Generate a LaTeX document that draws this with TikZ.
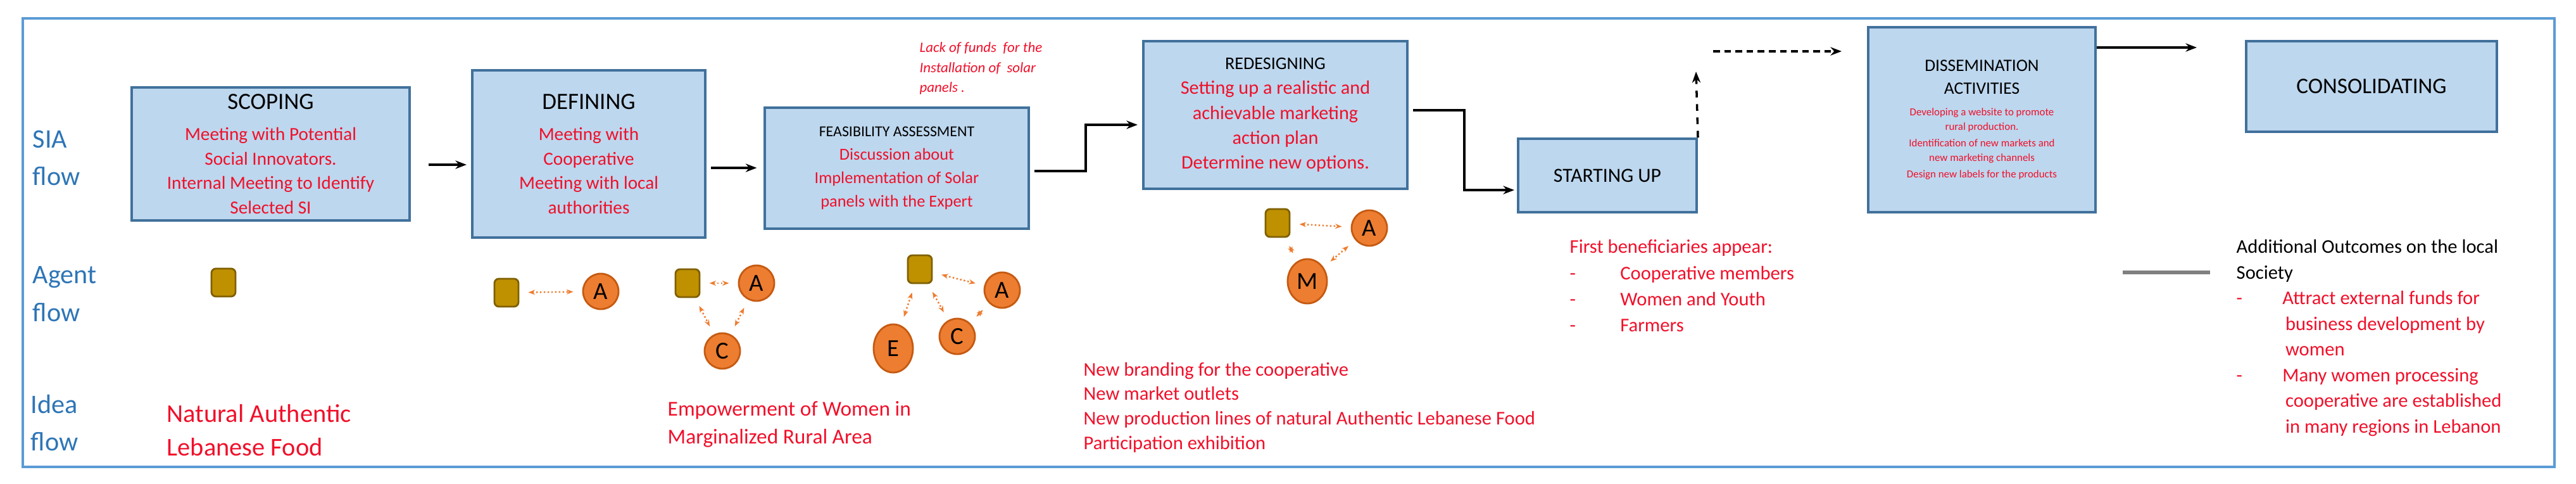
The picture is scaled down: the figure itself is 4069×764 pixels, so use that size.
\documentclass[tikz,border=0pt]{standalone}
\usepackage{fontspec}
\setmainfont{Carlito}
\usetikzlibrary{arrows.meta,calc,shapes.geometric}
\definecolor{bfill}{HTML}{BDD7EE}
\definecolor{bdraw}{HTML}{41719C}
\definecolor{frame}{HTML}{5B9BD5}
\definecolor{rtext}{HTML}{F0102A}
\definecolor{ltext}{HTML}{2E75B6}
\definecolor{sqf}{HTML}{BF9000}
\definecolor{sqd}{HTML}{7F6000}
\definecolor{cf}{HTML}{ED7D31}
\definecolor{cd}{HTML}{C55A11}
\newcommand{\fs}[2]{\fontsize{#1}{#2}\selectfont}
\begin{document}
\begin{tikzpicture}[x=0.01cm,y=-0.01cm,
  wh/.style 2 args={minimum width={#1*0.2845pt},minimum height={#2*0.2845pt}},
  box/.style={draw=bdraw,fill=bfill,line width=1.1pt,inner sep=0pt,align=center,text=rtext},
  lab/.style={text=ltext,align=left,anchor=north west,font=\fs{12}{17},inner sep=0pt},
  red/.style={text=rtext,align=left,anchor=west,inner sep=0pt},
  sq/.style={draw=sqd,fill=sqf,rounded corners=2pt,wh={38}{44},inner sep=0pt,line width=0.8pt},
  ag/.style={circle,draw=cd,fill=cf,wh={56}{56},inner sep=0pt,font=\fs{11}{12},line width=0.8pt},
  oa/.style={<->,>={Stealth[length=3pt]},draw=cf,line width=0.7pt,densely dotted,shorten <=4pt,shorten >=4pt},
  flow/.style={->,>={Stealth[length=5pt]},line width=1pt}]
\useasboundingbox (0,0) rectangle (4069,764);
\draw[frame,line width=1pt] (36,29) rectangle (4035,737);
% labels
\node[lab] (l1) at (51,205) {SIA\\flow};
\node[lab] (l2) at (51,420) {Agent\\flow};
\node[lab] (l3) at (48,622) {Idea\\flow};
% boxes
\node[box,wh={439}{210},font=\fs{8.3}{11}] (scop) at (427.5,243) {{\fs{10.5}{12}\color{black}SCOPING}\\[3pt]Meeting with Potential\\Social Innovators.\\Internal Meeting to Identify\\Selected SI};
\node[box,wh={368}{264},font=\fs{8.3}{11}] (def) at (930,243) {{\fs{10.5}{12}\color{black}DEFINING}\\[3pt]Meeting with\\Cooperative\\Meeting with local\\authorities};
\node[box,wh={417}{191},font=\fs{7.5}{10.5}] (feas) at (1416.5,265.5) {{\fs{6.8}{10.5}\color{black}FEASIBILITY ASSESSMENT}\\Discussion about\\Implementation of Solar\\panels with the Expert};
\node[box,wh={417}{233},font=\fs{8.6}{11.2}] (red) at (2014.5,181.5) {{\fs{8}{11}\color{black}REDESIGNING}\\Setting up a realistic and\\achievable marketing\\action plan\\Determine new options.};
\node[box,wh={282}{116},font=\fs{9}{11},text=black] (start) at (2539,277) {STARTING UP};
\node[box,wh={359}{292},font=\fs{4.8}{6.5}] (dis) at (3130.5,189) {{\fs{7.8}{10.5}\color{black}DISSEMINATION}\\[4pt]{\fs{7.8}{10.5}\color{black}ACTIVITIES}\\[3pt]Developing a website to promote\\rural production.\\[1pt]Identification of new markets and\\new marketing channels\\[1pt]Design new labels for the products};
\node[box,wh={396}{143},font=\fs{10}{12},text=black] (con) at (3746,136.5) {CONSOLIDATING};
% flow arrows
\draw[flow,shorten <=8pt,shorten >=2pt] (scop.east|-0,260) -- (def.west|-0,260);
\draw[flow,shorten <=2pt,shorten >=3pt] (def.east|-0,265) -- (feas.west|-0,265);
\coordinate (f1) at (1715,197);
\draw[flow] ($(feas.east|-0,270)+(7,0)$) -| (f1) -- ($(red.west|-0,197)+(-7,0)$);
\coordinate (r1) at (2313,300);
\draw[flow] ($(red.east|-0,174)+(7,0)$) -| (r1) -- ($(start.west|-0,300)+(-4,0)$);
\coordinate (s1) at (2679,113);
\draw[flow,dashed] (start.north east) -- (s1);
\coordinate (d0) at (2706,81);
\draw[flow,densely dashed] (d0) -- ($(dis.west|-0,81)+(-40,0)$);
\coordinate (c0) at (3470,75);
\draw[flow] (dis.east|-0,75) -- (c0);
% lack of funds
\node[red,anchor=north west,font=\itshape\fs{6.5}{9}] (lf) at (1452,66) {Lack of funds\ \ for the\\Installation of\ \ solar\\panels .};
% agents
\node[sq] (s_a) at (353,446) {};
\node[sq] (s_b) at (800,462) {};
\node[ag] (A_b) at (949,460) {A};
\draw[oa] (s_b) -- (A_b);
\node[sq] (s_c) at (1086,447) {};
\node[ag] (A_c) at (1195,447) {A};
\node[ag] (C_c) at (1141,554) {C};
\draw[oa] (s_c) -- (A_c);
\draw[oa] (s_c) -- (C_c);
\draw[oa] (A_c) -- (C_c);
\node[sq] (s_d) at (1453,425) {};
\node[ag] (A_d) at (1583,458) {A};
\node[ag] (C_d) at (1512,531) {C};
\node[ag,ellipse,wh={62}{76}] (E_d) at (1411,550) {E};
\draw[oa] (s_d) -- (A_d);
\draw[oa] (s_d) -- (C_d);
\draw[oa] (s_d) -- (E_d);
\draw[oa] (A_d) -- (C_d);
\node[sq] (s_e) at (2018,352) {};
\node[ag] (A_e) at (2163,360) {A};
\node[ag,ellipse,wh={62}{70}] (M_e) at (2065,444) {M};
\draw[oa] (s_e) -- (A_e);
\draw[oa] (s_e) -- (M_e);
\draw[oa] (A_e) -- (M_e);
% idea texts
\node[red,font=\fs{11.5}{15}] (i1) at (263,679) {Natural Authentic\\Lebanese Food};
\node[red,font=\fs{9.5}{12.5}] (i2) at (1054,670) {Empowerment of Women in\\Marginalized Rural Area};
\node[red,font=\fs{8.7}{11}] (i3) at (1711,643) {New branding for the cooperative\\New market outlets\\New production lines of natural Authentic Lebanese Food\\Participation exhibition};
\node[red,font=\fs{8.7}{11.7},anchor=north west] (i4) at (2479,378) {First beneficiaries appear:\\-\hspace{20pt}Cooperative members\\-\hspace{20pt}Women and Youth\\-\hspace{20pt}Farmers};
\coordinate (g1) at (3353,430);
\coordinate (g2) at (3491,430);
\draw[gray,line width=1.8pt] (g1) -- (g2);
\node[anchor=north west,inner sep=0pt,align=left,font=\fs{8.7}{11.5}] (i5) at (3532,378) {Additional Outcomes on the local\\Society\\
{\color{rtext}-\hspace{18pt}Attract external funds for}\\
{\color{rtext}\hspace{22pt}business development by}\\
{\color{rtext}\hspace{22pt}women}\\
{\color{rtext}-\hspace{18pt}Many women processing}\\
{\color{rtext}\hspace{22pt}cooperative are established}\\
{\color{rtext}\hspace{22pt}in many regions in Lebanon}};
\end{tikzpicture}
\end{document}
